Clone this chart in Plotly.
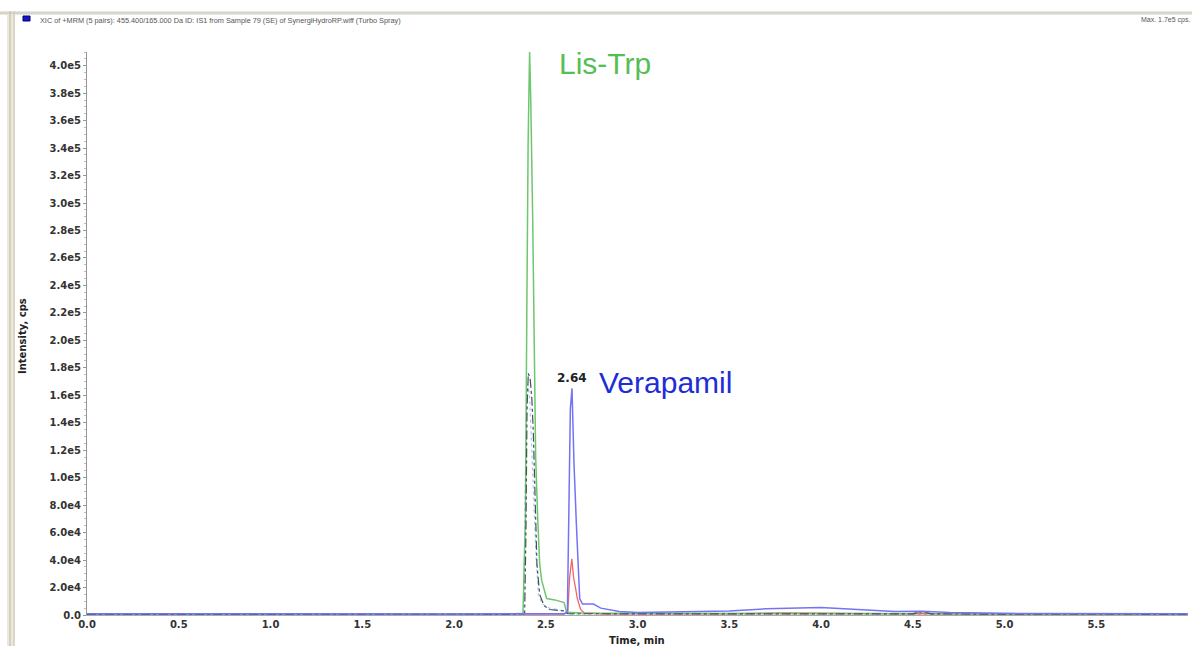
import plotly.graph_objects as go

# ---------------- data ----------------
green_t = [0.00, 0.40, 0.80, 1.20, 1.60, 2.00, 2.30, 2.376, 2.383, 2.389, 2.397, 2.404, 2.412,
           2.418, 2.429, 2.435, 2.445, 2.456, 2.467, 2.478, 2.505, 2.550, 2.600, 2.614, 2.700,
           3.000, 3.500, 4.000, 4.500, 4.550, 4.600, 5.000, 5.500, 6.000]
green_i = [600, 500, 700, 500, 600, 500, 700, 1200, 39000, 69000, 224000, 344000, 410000,
           377000, 288000, 229000, 115000, 71000, 37000, 25000, 12000, 11000, 9000, 2000, 1500,
           1200, 1000, 1300, 1000, 2500, 1000, 800, 700, 600]

dark_t = [0.00, 0.50, 1.00, 1.50, 2.00, 2.30, 2.385, 2.392, 2.398, 2.405, 2.415, 2.424, 2.432,
          2.440, 2.446, 2.452, 2.467, 2.490, 2.520, 2.600, 2.620, 3.00, 3.50, 4.00, 4.50, 4.55,
          4.60, 5.00, 5.50, 6.00]
dark_i = [500, 400, 500, 400, 500, 500, 900, 60000, 150000, 176000, 172000, 158000, 134000,
          100000, 71000, 37000, 15000, 7000, 4000, 3000, 900, 800, 700, 800, 800, 2500,
          800, 600, 500, 500]

lightblue_t = [0.00, 1.00, 2.00, 2.30, 2.380, 2.386, 2.394, 2.402, 2.412, 2.424, 2.436, 2.448,
               2.460, 2.480, 2.520, 2.600, 2.620, 3.00, 4.00, 5.00, 6.00]
lightblue_i = [300, 300, 300, 300, 600, 70000, 140000, 168000, 160000, 120000, 80000, 40000,
               15000, 8000, 5000, 3000, 600, 400, 400, 300, 300]

blue_t = [0.00, 0.40, 0.80, 1.20, 1.60, 2.00, 2.40, 2.600, 2.618, 2.624, 2.634, 2.643, 2.654,
          2.667, 2.674, 2.685, 2.700, 2.760, 2.800, 2.850, 2.900, 3.000, 3.300, 3.500, 3.700,
          3.900, 4.000, 4.200, 4.400, 4.550, 4.700, 5.000, 5.500, 6.000]
blue_i = [900, 800, 900, 800, 900, 800, 900, 900, 2000, 57000, 150000, 165000, 110000,
          66000, 42000, 12000, 8000, 8000, 5000, 3500, 2500, 1800, 2200, 3000, 4500,
          5500, 5500, 4000, 2500, 2800, 1800, 1200, 1000, 900]

red_t = [0.00, 0.40, 0.80, 1.20, 1.60, 2.00, 2.40, 2.600, 2.620, 2.630, 2.642, 2.652, 2.662,
         2.672, 2.690, 2.710, 2.800, 3.000, 3.500, 3.800, 4.000, 4.200, 4.500, 5.000, 5.500, 6.000]
red_i = [700, 600, 700, 600, 700, 600, 700, 700, 2000, 27000, 41000, 27000, 20000,
         12000, 4000, 1500, 900, 800, 900, 1500, 1500, 1200, 900, 800, 700, 700]

threshold_t = [-0.015]
threshold_i = [9500]

x_tickvals = [0.0, 0.5, 1.0, 1.5, 2.0, 2.5, 3.0, 3.5, 4.0, 4.5, 5.0, 5.5]
x_ticktext = ["0.0", "0.5", "1.0", "1.5", "2.0", "2.5", "3.0", "3.5", "4.0", "4.5", "5.0", "5.5"]
y_tickvals = [0, 20000, 40000, 60000, 80000, 100000, 120000, 140000, 160000, 180000, 200000,
              220000, 240000, 260000, 280000, 300000, 320000, 340000, 360000, 380000, 400000]
y_ticktext = ["0.0", "2.0e4", "4.0e4", "6.0e4", "8.0e4", "1.0e5", "1.2e5", "1.4e5", "1.6e5",
              "1.8e5", "2.0e5", "2.2e5", "2.4e5", "2.6e5", "2.8e5", "3.0e5", "3.2e5", "3.4e5",
              "3.6e5", "3.8e5", "4.0e5"]

peak_labels = ["Lis-Trp", "Verapamil"]
peak_label_t = [2.562, 2.780]
peak_label_i = [401500, 169000]
rt_label = "2.64"
rt_label_t = 2.643
rt_label_i = 172500

header_text = "XIC of +MRM (5 pairs): 455.400/165.000 Da ID: IS1 from Sample 79 (SE) of SynergiHydroRP.wiff (Turbo Spray)"
max_text = "Max. 1.7e5 cps."

# ---------------- figure ----------------
W, H = 1192, 646
L, R, T, B = 87, 4, 52, 31
PW, PH = W - L - R, H - T - B


def px(x):
    return (x - L) / PW


def py(y):
    return (H - B - y) / PH


fig = go.Figure()
fig.add_trace(go.Scatter(x=lightblue_t, y=lightblue_i, mode="lines",
                         line=dict(color="rgb(165,200,238)", width=1.2, dash="dot")))
fig.add_trace(go.Scatter(x=red_t, y=red_i, mode="lines",
                         line=dict(color="rgb(245,100,100)", width=1.3)))
fig.add_trace(go.Scatter(x=green_t, y=green_i, mode="lines",
                         line=dict(color="rgb(110,198,110)", width=1.5)))
fig.add_trace(go.Scatter(x=dark_t, y=dark_i, mode="lines",
                         line=dict(color="rgb(70,80,90)", width=1.2, dash="dashdot")))
fig.add_trace(go.Scatter(x=blue_t, y=blue_i, mode="lines",
                         line=dict(color="rgb(115,115,248)", width=1.5)))
fig.add_trace(go.Scatter(x=threshold_t, y=threshold_i, mode="markers", cliponaxis=False,
                         marker=dict(symbol="triangle-right", size=6, color="rgb(30,30,220)")))

tickfont = dict(family="DejaVu Sans", size=10, color="#333333", weight="bold")
fig.update_layout(
    width=W, height=H, autosize=False,
    margin=dict(l=L, r=R, t=T, b=B),
    paper_bgcolor="white", plot_bgcolor="white",
    showlegend=False,
    xaxis=dict(range=[0, 6.0], tickvals=x_tickvals, ticktext=x_ticktext,
               showgrid=False, zeroline=False, showline=True, linecolor="rgb(170,170,170)",
               ticks="", tickfont=tickfont),
    yaxis=dict(range=[0, 410000], tickvals=y_tickvals, ticktext=y_ticktext,
               showgrid=False, zeroline=False, showline=True, linecolor="rgb(150,150,150)",
               ticks="outside", ticklen=3, tickcolor="rgb(150,150,150)", tickfont=tickfont,
               minor=dict(dtick=5000, ticks="outside", ticklen=2, tickcolor="rgb(190,190,190)")),
)

annotations = [
    dict(x=peak_label_t[0], y=peak_label_i[0], text=peak_labels[0], xref="x", yref="y",
         xanchor="left", yanchor="middle", showarrow=False,
         font=dict(family="Liberation Sans", size=30, color="rgb(85,190,85)")),
    dict(x=peak_label_t[1], y=peak_label_i[1], text=peak_labels[1], xref="x", yref="y",
         xanchor="left", yanchor="middle", showarrow=False,
         font=dict(family="Liberation Sans", size=30, color="rgb(30,45,215)")),
    dict(x=rt_label_t, y=rt_label_i, text=rt_label, xref="x", yref="y",
         xanchor="center", yanchor="middle", showarrow=False,
         font=dict(family="DejaVu Sans", size=12, color="#222222", weight="bold")),
    dict(x=px(22), y=py(336), text="Intensity, cps", xref="paper", yref="paper", textangle=-90,
         xanchor="center", yanchor="middle", showarrow=False,
         font=dict(family="DejaVu Sans", size=10, color="#222222", weight="bold")),
    dict(x=px(637), y=py(640), text="Time, min", xref="paper", yref="paper",
         xanchor="center", yanchor="middle", showarrow=False,
         font=dict(family="DejaVu Sans", size=10, color="#222222", weight="bold")),
    dict(x=px(38), y=py(20), text=header_text, xref="paper", yref="paper",
         xanchor="left", yanchor="middle", showarrow=False,
         font=dict(family="Liberation Sans", size=7.3, color="#555555")),
    dict(x=px(1192), y=py(20), text=max_text, xref="paper", yref="paper",
         xanchor="right", yanchor="middle", showarrow=False,
         font=dict(family="Liberation Sans", size=7, color="#555555")),
]
fig.update_layout(annotations=annotations)

shapes = [
    # window top border
    dict(type="rect", xref="paper", yref="paper", x0=px(0), x1=px(W), y0=py(15), y1=py(11),
         fillcolor="rgb(232,230,222)", line=dict(width=0), layer="below"),
    dict(type="line", xref="paper", yref="paper", x0=px(0), x1=px(W), y0=py(13), y1=py(13),
         line=dict(color="rgb(195,195,188)", width=1)),
    # window left border
    dict(type="rect", xref="paper", yref="paper", x0=px(7), x1=px(15), y0=py(H), y1=py(11),
         fillcolor="rgb(236,233,220)", line=dict(width=0), layer="below"),
    dict(type="line", xref="paper", yref="paper", x0=px(10), x1=px(10), y0=py(H), y1=py(11),
         line=dict(color="rgb(185,182,170)", width=1)),
    dict(type="line", xref="paper", yref="paper", x0=px(14), x1=px(14), y0=py(H), y1=py(11),
         line=dict(color="rgb(200,196,182)", width=1)),
    # header colour key
    dict(type="rect", xref="paper", yref="paper", x0=px(23), x1=px(30), y0=py(21), y1=py(16),
         fillcolor="rgb(20,20,200)", line=dict(color="rgb(0,0,120)", width=1)),
]
fig.update_layout(shapes=shapes)

fig.write_html("out.html")
